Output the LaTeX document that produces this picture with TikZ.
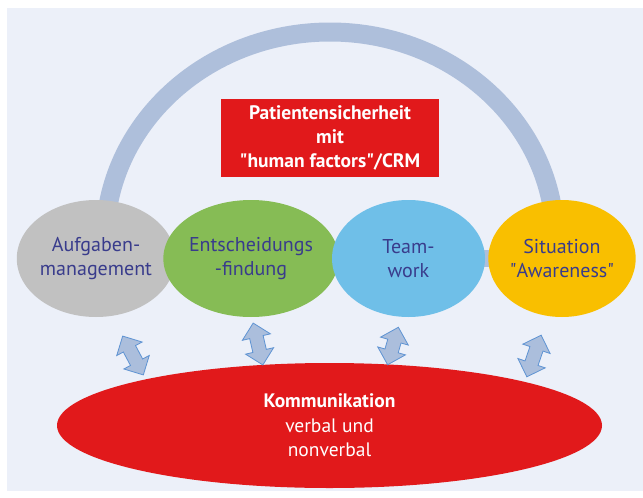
\documentclass[tikz,border=0pt]{standalone}
\usepackage{fontspec}
\setmainfont{PT Sans}
\usetikzlibrary{shapes.geometric,shapes.arrows}
\definecolor{bgblue}{HTML}{ECF0F9}
\definecolor{archblue}{HTML}{AEBFDB}
\definecolor{greyfill}{HTML}{C1C1C1}
\definecolor{greenfill}{HTML}{86BC55}
\definecolor{skyfill}{HTML}{6FBFE8}
\definecolor{yellowfill}{HTML}{F9BF00}
\definecolor{alarmred}{HTML}{E1191B}
\definecolor{inkblue}{HTML}{393C8C}
\definecolor{arrowfill}{HTML}{ABBEDC}
\definecolor{arrowline}{HTML}{5E93D3}
\newcommand{\dq}{\textquotedbl}

\begin{document}
\begin{tikzpicture}[x=1pt,y=-1pt,
  factor/.style={ellipse, minimum height=117pt, inner sep=0pt, text=inkblue,
    align=center, font=\fontsize{20}{24}\selectfont},
  titlebox/.style={rectangle, fill=alarmred, minimum width=218pt, minimum height=78pt,
    inner sep=0pt, text=white, align=center, font=\bfseries\fontsize{19.5}{24}\selectfont},
  basebox/.style={ellipse, fill=alarmred, minimum width=545pt, minimum height=125pt,
    inner sep=0pt, text=white, align=center, font=\fontsize{19.5}{24.5}\selectfont},
  linkarrow/.style={double arrow, draw=arrowline, fill=arrowfill, line width=0.8pt,
    inner xsep=0pt, inner ysep=6.5pt, double arrow head extend=7.5pt},
  band/.style={draw=archblue, line width=#1},
]
\useasboundingbox (0,0) rectangle (643,498);
\fill[bgblue] (7,8) rectangle (643,491);

% centres of the four factor circles
\coordinate (cA) at (96,258.5);
\coordinate (cB) at (251,258.5);
\coordinate (cC) at (408.5,258.5);
\coordinate (cD) at (562,258.5);

% arch over the factors and the band that links them
\coordinate (archL) at (105,240);
\draw[band=19pt] (archL) arc[start angle=180, end angle=0, x radius=225pt, y radius=208pt] coordinate (archR);
\draw[band=17pt] (cA) -- (cD);

% the four human factors
\node[factor, fill=greyfill, minimum width=148pt] (agm) at (cA) {Aufgaben-\\management};
\node[factor, fill=greenfill, minimum width=150pt] (ent) at (cB) {Entscheidungs\\-findung};
\node[factor, fill=skyfill, minimum width=153pt] (team) at (cC) {Team-\\work};
\node[factor, fill=yellowfill, minimum width=144pt] (sit) at (cD) {Situation\\\dq Awareness\dq};

% title
\node[titlebox] (title) at (330,138) {Patientensicherheit\\mit\\\dq human factors\dq/CRM};

% communication base
\node[basebox] (komm) at (329.5,425.5) {\textbf{Kommunikation}\\verbal und\\nonverbal};

% exchange arrows between factors and communication
\node[linkarrow, minimum height=44pt, rotate=118] (x1) at (133,355.5) {};
\node[linkarrow, minimum height=43pt, rotate=103] (x2) at (258,344) {};
\node[linkarrow, minimum height=39pt, rotate=74] (x3) at (393,346) {};
\node[linkarrow, minimum height=44pt, rotate=71] (x4) at (534,356) {};
\end{tikzpicture}
\end{document}
